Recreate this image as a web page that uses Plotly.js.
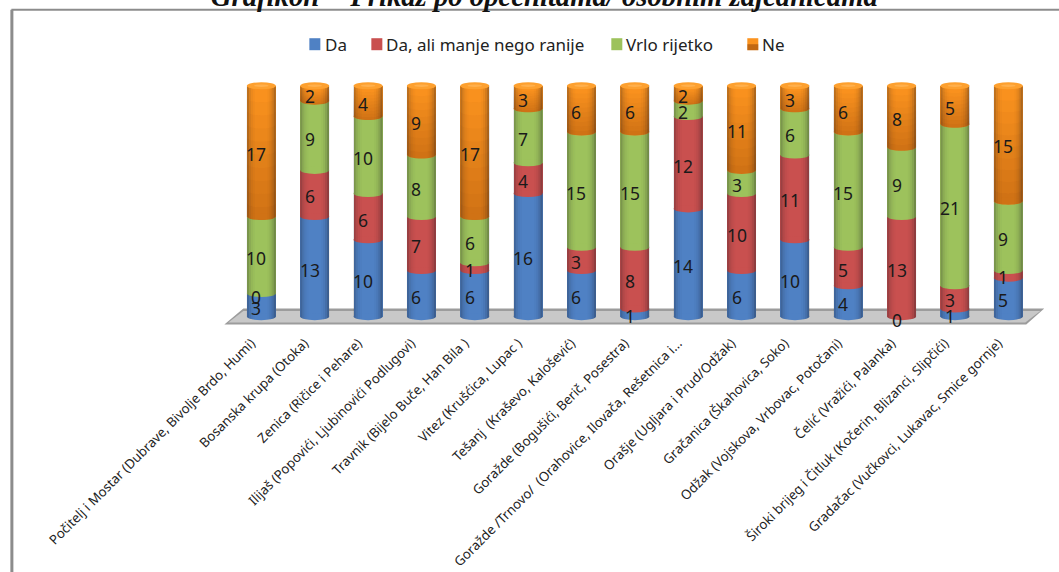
<!DOCTYPE html>
<html>
<head>
<meta charset="utf-8">
<script src="https://cdn.plot.ly/plotly-3.0.1.min.js"></script>
<style>html,body{margin:0;padding:0;background:#fff;overflow:hidden}</style>
</head>
<body>
<div id="chart" style="width:1059px;height:572px"></div>
<script>
const categories = [
  "Počitelj i Mostar (Dubrave, Bivolje Brdo, Humi)",
  "Bosanska krupa (Otoka)",
  "Zenica (Ričice i Pehare)",
  "Ilijaš (Popovići, Ljubinovići Podlugovi)",
  "Travnik (Bijelo Buče, Han Bila )",
  "Vitez (Krušćica, Lupac )",
  "Tešanj  (Kraševo, Kalošević)",
  "Goražde (Bogušići, Berič, Posestra)",
  "Goražde /Trnovo/  (Orahovice, Ilovača, Rešetnica i...",
  "Orašje (Ugljara i Prud/Odžak)",
  "Gračanica (Škahovica, Soko)",
  "Odžak (Vojskova, Vrbovac, Potočani)",
  "Čelić (Vražići, Palanka)",
  "Široki brijeg i Čitluk (Kočerin, Blizanci, Slipčići)",
  "Gradačac (Vučkovci, Lukavac, Smice gornje)"
];
const da    = [3,13,10,6,6,16,6,1,14,6,10,4,0,1,5];
const daAli = [0,6,6,7,1,4,3,8,12,10,11,5,13,3,1];
const vrlo  = [10,9,10,8,6,7,15,15,2,3,6,15,9,21,9];
const ne    = [17,2,4,9,17,3,6,6,2,11,3,6,8,5,15];
const seriesNames = ["Da","Da, ali manje nego ranije","Vrlo rijetko","Ne"];
const seriesColors = ["#4f81c4","#c9504f","#9dc25c","#fb931f"];
const titleText = "Grafikon  - Prikaz po općenitama/ osobnim zajednicama";

const seriesValues = [da, daAli, vrlo, ne];
const xs = categories.map((_, i) => i);
const barW = 0.543, halfW = barW / 2, capE = 0.46;
const X0 = 261, XU = 53.36, Y0 = 317, YU = 7.7;
const rangeX = [-1, 14.8], rangeY = [-2, 31];
const mL = X0 + rangeX[0] * XU, mR = 1059 - (X0 + rangeX[1] * XU);
const mT = Y0 - rangeY[1] * YU, mB = 572 - (Y0 - rangeY[0] * YU);
const plotW = 1059 - mL - mR, plotH = 572 - mT - mB;
const paperX = px => (px - mL) / plotW, paperY = py => 1 - (py - mT) / plotH;

const traces = seriesValues.map((vals, k) => ({
  type: "bar", x: xs, y: vals, name: seriesNames[k], width: barW,
  marker: {color: seriesColors[k], line: {width: 0}}, hoverinfo: "skip"
}));

const shapes = [];
const annotations = [];
const fx = px => (px - X0) / XU, fy = py => (Y0 - py) / YU;
function poly(pts){ return "M" + pts.map(p => p[0].toFixed(4) + "," + p[1].toFixed(4)).join("L") + "Z"; }
// floor
shapes.push({type:"path", layer:"below", xref:"x", yref:"y", line:{width:0}, fillcolor:"#9c9c9c",
  path: poly([[fx(243),fy(309)],[fx(1044),fy(309)],[fx(1026),fy(325)],[fx(224),fy(325)]])});
shapes.push({type:"path", layer:"below", xref:"x", yref:"y", line:{width:0}, fillcolor:"#c8c8c8",
  path: poly([[fx(243),fy(311.5)],[fx(1040),fy(311.5)],[fx(1025),fy(323)],[fx(228),fy(323)]])});

function frontY(y, u){ return y - capE * Math.sqrt(Math.max(0, 1 - u * u)); }
xs.forEach(i => {
  let base = 0;
  const segs = seriesValues.map(v => { const s = {lo: base, hi: base + v[i], v: v[i]}; base += v[i]; return s; });
  const total = base;
  for (let k = 3; k >= 0; k--) {
    if (segs[k].v > 0) shapes.push({type:"circle", layer:"above", xref:"x", yref:"y", line:{width:0},
      fillcolor: seriesColors[k], x0:i-halfW, x1:i+halfW, y0:segs[k].lo-capE, y1:segs[k].lo+capE});
  }
  const o = segs[3];
  if (o.v > 0) {
    const nb = 10;
    for (let b = 0; b < nb; b++) {
      const y1 = o.hi - (o.v * b) / nb, y0 = o.hi - (o.v * (b + 1)) / nb;
      const lowPts = [], highPts = [];
      for (let s = 0; s <= 10; s++) {
        const u = -1 + s / 5;
        lowPts.push([i + u * halfW, frontY(y0, u)]);
        highPts.unshift([i + u * halfW, frontY(y1, u)]);
      }
      shapes.push({type:"path", layer:"above", xref:"x", yref:"y", line:{width:0},
        fillcolor:"rgba(110,40,0," + (0.32 * (b + 0.5) / nb).toFixed(3) + ")",
        path: poly(lowPts.concat(highPts))});
    }
  }
  const strips = 14;
  for (let s = 0; s < strips; s++) {
    const u0 = -1 + 2 * s / strips, u1 = -1 + 2 * (s + 1) / strips, um = (u0 + u1) / 2;
    const side = um < 0 ? 0.34 : 0.44;
    const a = side * Math.pow(Math.abs(um), 4);
    if (a < 0.01) continue;
    const pts = [];
    for (let t = 0; t <= 3; t++) { const u = u0 + (u1 - u0) * t / 3; pts.push([i + u * halfW, frontY(0, u)]); }
    for (let t = 3; t >= 0; t--) { const u = u0 + (u1 - u0) * t / 3; pts.push([i + u * halfW, frontY(total, u)]); }
    shapes.push({type:"path", layer:"above", xref:"x", yref:"y", line:{width:0},
      fillcolor:"rgba(20,20,30," + a.toFixed(3) + ")", path: poly(pts)});
  }
  shapes.push({type:"circle", layer:"above", xref:"x", yref:"y", line:{width:0}, fillcolor:"#fda02f",
    x0:i-halfW, x1:i+halfW, y0:total-capE, y1:total+capE});
  shapes.push({type:"circle", layer:"above", xref:"x", yref:"y", line:{width:0}, fillcolor:"#ffb04d",
    x0:i-halfW*0.5, x1:i+halfW*0.5, y0:total-capE*0.35, y1:total+capE*0.35});
  segs.forEach(s => annotations.push({
    x:i, y:(s.lo+s.hi)/2, xref:"x", yref:"y", text:String(s.v), showarrow:false,
    xshift:-5, yshift:-3, font:{family:"Noto Sans", size:17.5, color:"#1a1a1a"}
  }));
});

// legend drawn to the reference's tight swatch/text spacing
const legendSwatchX = [309, 371, 611, 747];
seriesNames.forEach((name, k) => {
  const sx = legendSwatchX[k];
  shapes.push({type:"rect", layer:"below", xref:"paper", yref:"paper", line:{width:0}, fillcolor:seriesColors[k],
    x0:paperX(sx), x1:paperX(sx+11), y0:paperY(50.5), y1:paperY(38.5)});
  if (k === 3) shapes.push({type:"rect", layer:"below", xref:"paper", yref:"paper", line:{width:0}, fillcolor:"rgba(110,40,0,0.4)",
    x0:paperX(sx), x1:paperX(sx+11), y0:paperY(50.5), y1:paperY(44.5)});
  annotations.push({xref:"paper", yref:"paper", x:paperX(sx+(k === 0 ? 14 : 13)), y:paperY(44.5), xanchor:"left", yanchor:"middle",
    text:name, showarrow:false, font:{family:"Noto Sans", size:17, color:"#222"}});
});

// outer frame, cut off by the page on the right and at the bottom
shapes.push({type:"line", layer:"below", xref:"paper", yref:"paper", line:{color:"#8c8c8c", width:2},
  x0:paperX(11), x1:paperX(1062), y0:paperY(10), y1:paperY(10)});
shapes.push({type:"line", layer:"below", xref:"paper", yref:"paper", line:{color:"#8c8c8c", width:3},
  x0:paperX(11.5), x1:paperX(11.5), y0:paperY(575), y1:paperY(10)});

Plotly.newPlot("chart", traces, {
  width:1059, height:572, barmode:"stack", showlegend:false,
  paper_bgcolor:"#ffffff", plot_bgcolor:"rgba(0,0,0,0)",
  margin:{l:mL, r:mR, t:mT, b:mB, pad:0},
  title:{text:titleText, x:0.514, xanchor:"center", y:0.99, yanchor:"bottom",
    font:{family:"Liberation Serif", size:28.7, color:"#111", style:"italic", weight:"bold"}},
  font:{family:"Noto Sans"},
  xaxis:{range:rangeX, tickmode:"array", tickvals:xs, ticktext:categories, tickangle:-45, showgrid:false,
    zeroline:false, showline:false, ticks:"", ticklabelshift:-10, tickfont:{family:"Noto Sans", size:13.2, color:"#222"}, automargin:false},
  yaxis:{range:rangeY, showgrid:false, zeroline:false, showline:false, showticklabels:false, ticks:"", automargin:false},
  shapes, annotations
}, {displayModeBar:false, responsive:false});
</script>
</body>
</html>
